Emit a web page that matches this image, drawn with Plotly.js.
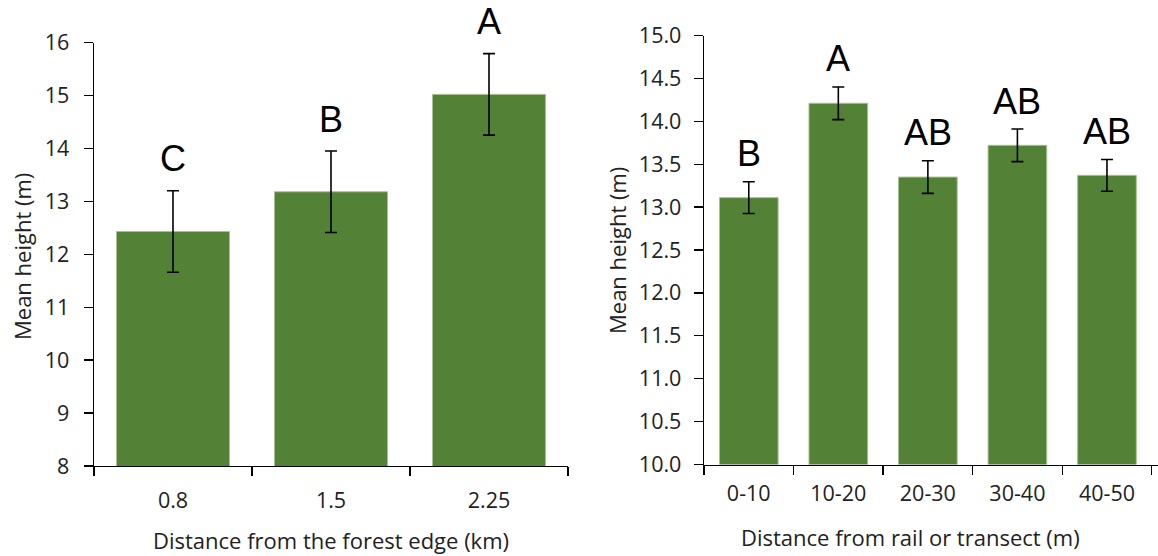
<!DOCTYPE html>
<html>
<head>
<meta charset="utf-8">
<script src="https://cdn.plot.ly/plotly-3.0.1.min.js"></script>
<style>html,body{margin:0;padding:0;background:#fff;}#chart{width:1158px;height:556px;}</style>
</head>
<body>
<div id="chart"></div>
<script>
// Left panel: distance from forest edge
const edgeCategories = ["0.8", "1.5", "2.25"];
const edgeMeans = [12.43, 13.18, 15.02];
const edgeErrors = [0.77, 0.77, 0.77];
const edgeLetters = ["C", "B", "A"];
const edgeXTitle = "Distance from the forest edge (km)";

// Right panel: distance from rail or transect
const railCategories = ["0-10", "10-20", "20-30", "30-40", "40-50"];
const railMeans = [13.11, 14.21, 13.35, 13.72, 13.37];
const railErrors = [0.185, 0.19, 0.19, 0.19, 0.185];
const railLetters = ["B", "A", "AB", "AB", "AB"];
const railXTitle = "Distance from rail or transect (m)";

const yTitle = "Mean height (m)";

const W = 1158, H = 556;
const barColor = "#538135";
const tickFont = {family: "Open Sans", size: 21.5, color: "#222"};
const titleFont = {family: "Open Sans", size: 22, color: "#222"};
const letterFont = {family: "Liberation Sans", size: 36, color: "#000"};

const traces = [
  {
    type: "bar", x: edgeCategories, y: edgeMeans, xaxis: "x", yaxis: "y",
    width: 0.715,
    marker: {color: barColor, line: {color: "#a8c08f", width: 1}},
    error_y: {type: "data", array: edgeErrors, visible: true, color: "#000", thickness: 1.6, width: 6},
    hoverinfo: "x+y", showlegend: false
  },
  {
    type: "bar", x: railCategories, y: railMeans, xaxis: "x2", yaxis: "y2",
    width: 0.655,
    marker: {color: barColor, line: {color: "#a8c08f", width: 1}},
    error_y: {type: "data", array: railErrors, visible: true, color: "#000", thickness: 1.6, width: 6},
    hoverinfo: "x+y", showlegend: false
  }
];

const annotations = [];
edgeCategories.forEach((c, i) => {
  annotations.push({
    x: i, y: edgeMeans[i] + edgeErrors[i], xref: "x", yref: "y",
    text: edgeLetters[i], showarrow: false, yanchor: "middle", yshift: 32,
    font: letterFont
  });
});
railCategories.forEach((c, i) => {
  annotations.push({
    x: i, y: railMeans[i] + railErrors[i], xref: "x2", yref: "y2",
    text: railLetters[i], showarrow: false, yanchor: "middle", yshift: 28,
    font: letterFont
  });
});
// axis titles
annotations.push({xref: "paper", yref: "paper", x: 331 / W, y: 1 - 540 / H, text: edgeXTitle,
  showarrow: false, xanchor: "center", yanchor: "middle", font: titleFont});
annotations.push({xref: "paper", yref: "paper", x: 910 / W, y: 1 - 537 / H, text: railXTitle,
  showarrow: false, xanchor: "center", yanchor: "middle", font: titleFont});
annotations.push({xref: "paper", yref: "paper", x: 22 / W, y: 1 - 257 / H, text: yTitle, textangle: -90,
  showarrow: false, xanchor: "center", yanchor: "middle", font: titleFont});
annotations.push({xref: "paper", yref: "paper", x: 617 / W, y: 1 - 251 / H, text: yTitle, textangle: -90,
  showarrow: false, xanchor: "center", yanchor: "middle", font: titleFont});

const axisCommon = {
  showgrid: false, zeroline: false, showline: true, linecolor: "#000", linewidth: 1.3,
  ticks: "outside", ticklen: 9, tickwidth: 1.3, tickcolor: "#000",
  tickfont: tickFont, fixedrange: true
};

const layout = {
  width: W, height: H,
  margin: {l: 0, r: 0, t: 0, b: 0},
  paper_bgcolor: "#fff", plot_bgcolor: "#fff",
  showlegend: false,
  xaxis: Object.assign({}, axisCommon, {
    domain: [94 / W, 568 / W], anchor: "y", type: "category",
    range: [-0.5, 2.5], tickson: "boundaries", ticklabelstandoff: 15
  }),
  yaxis: Object.assign({}, axisCommon, {
    domain: [1 - 466 / H, 1 - 42.5 / H], anchor: "x",
    range: [8, 16], dtick: 1, tick0: 8, ticklabelstandoff: 10
  }),
  xaxis2: Object.assign({}, axisCommon, {
    domain: [704 / W, 1], anchor: "y2", type: "category",
    range: [-0.5, 4.57], tickson: "boundaries", ticklabelstandoff: 9
  }),
  yaxis2: Object.assign({}, axisCommon, {
    domain: [1 - 464.5 / H, 1 - 35.5 / H], anchor: "x2",
    range: [10, 15], dtick: 0.5, tick0: 10, tickformat: ".1f", ticklabelstandoff: 8
  }),
  annotations: annotations
};

Plotly.newPlot("chart", traces, layout, {displayModeBar: false, staticPlot: true});
</script>
</body>
</html>
